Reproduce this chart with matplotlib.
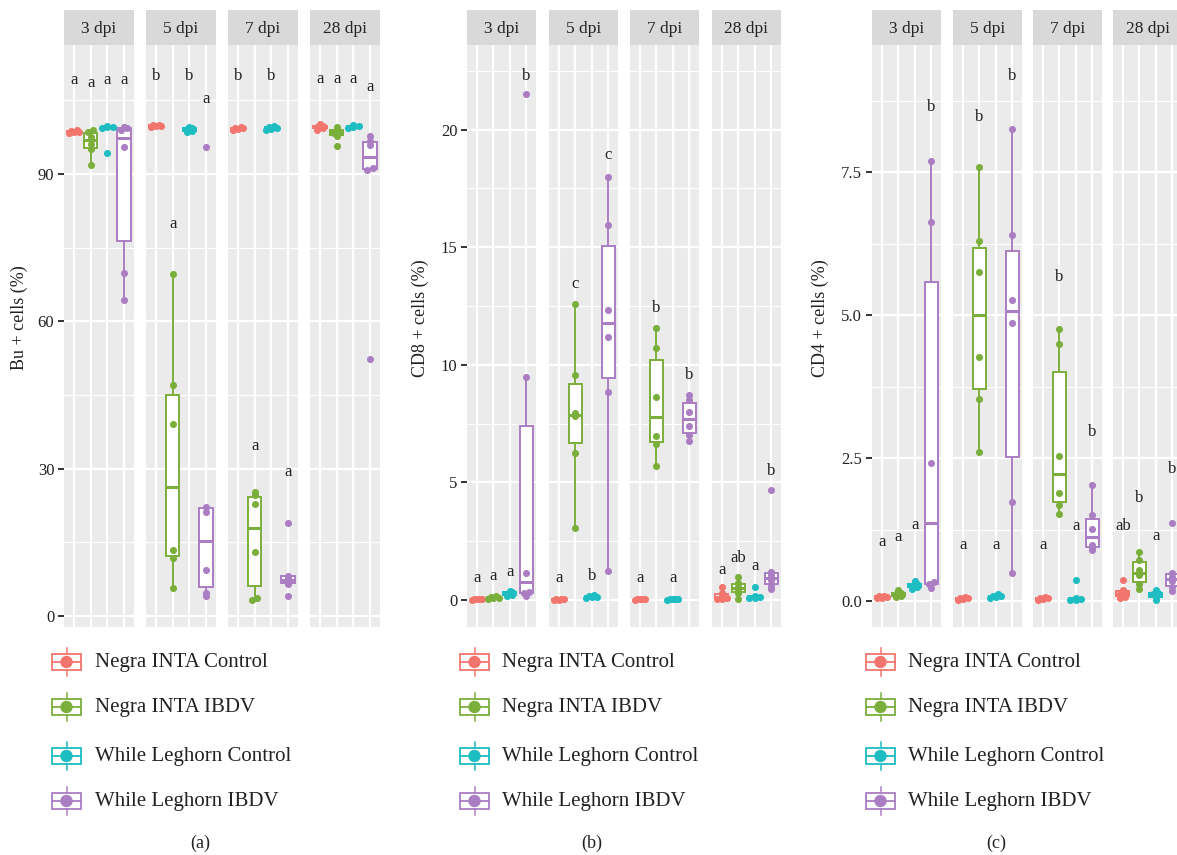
import numpy as np
import matplotlib
matplotlib.use('Agg')
import matplotlib.pyplot as plt
from matplotlib.patches import Rectangle, Circle

plt.rcParams['font.family'] = ['Liberation Serif', 'DejaVu Serif']

W, H = 1177, 855

GROUPS = ['Negra INTA Control', 'Negra INTA IBDV', 'While Leghorn Control', 'While Leghorn IBDV']
COLORS = ['#F2766E', '#7BAF3B', '#1DBDC2', '#AB7DC3']
DPI_LABELS = ['3 dpi', '5 dpi', '7 dpi', '28 dpi']

# Bu+ cells (%): per dpi, per group
bu_pct = [
    [[99.0, 98.8, 98.6, 98.5, 98.3], [98.9, 98.6, 97.5, 96.1, 95.0, 91.8],
     [99.8, 99.6, 99.5, 99.4, 94.3], [99.5, 99.3, 99.0, 95.4, 69.9, 64.3]],
    [[100.0, 99.9, 99.8, 99.7, 99.6], [69.7, 47.1, 39.0, 13.4, 11.8, 5.8],
     [99.6, 99.3, 99.1, 98.8, 98.4], [95.4, 22.2, 21.2, 9.4, 4.7, 4.1]],
    [[99.6, 99.4, 99.3, 99.1, 98.9], [25.3, 24.6, 22.8, 13.1, 3.7, 3.3],
     [99.7, 99.5, 99.3, 99.2, 99.0], [19.0, 8.2, 7.7, 7.2, 6.6, 4.1]],
    [[100.1, 99.8, 99.6, 99.3, 99.0], [99.5, 99.0, 98.6, 98.2, 97.7, 95.7],
     [99.9, 99.7, 99.5, 99.3], [97.6, 96.7, 95.8, 91.2, 90.8, 52.3]],
]
bu_letters = [['a', 'a', 'a', 'a'], ['b', 'a', 'b', 'a'], ['b', 'a', 'b', 'a'], ['a', 'a', 'a', 'a']]
bu_letter_y = [[109.0, 108.4, 109.0, 109.0], [109.8, 79.7, 109.8, 105.3],
               [109.8, 34.6, 109.8, 29.4], [109.3, 109.3, 109.3, 107.6]]

# CD8+ cells (%)
cd8_pct = [
    [[0.05, 0.04, 0.03, 0.02, 0.01], [0.15, 0.12, 0.10, 0.08, 0.05],
     [0.38, 0.32, 0.27, 0.22, 0.18], [21.5, 9.5, 1.16, 0.35, 0.28, 0.17]],
    [[0.04, 0.03, 0.02, 0.01, 0.0], [12.6, 9.57, 7.94, 7.83, 6.27, 3.08],
     [0.20, 0.17, 0.14, 0.12, 0.10], [18.0, 15.96, 12.34, 11.2, 8.86, 1.25]],
    [[0.05, 0.04, 0.03, 0.02, 0.01], [11.56, 10.71, 8.62, 6.98, 6.65, 5.7],
     [0.05, 0.04, 0.03, 0.02, 0.01], [8.72, 8.5, 8.01, 7.4, 7.0, 6.78]],
    [[0.54, 0.30, 0.18, 0.10, 0.05, 0.02], [0.99, 0.70, 0.55, 0.45, 0.30, 0.05],
     [0.57, 0.15, 0.12, 0.10, 0.08], [4.68, 1.2, 1.05, 0.85, 0.6, 0.45]],
]
cd8_letters = [['a', 'a', 'a', 'b'], ['a', 'c', 'b', 'c'], ['a', 'b', 'a', 'b'], ['a', 'ab', 'a', 'b']]
cd8_letter_y = [[0.94, 1.02, 1.2, 22.3], [0.92, 13.45, 1.02, 18.94],
                [0.93, 12.4, 0.93, 9.57], [1.28, 1.77, 1.46, 5.5]]

# CD4+ cells (%)
cd4_pct = [
    [[0.10, 0.09, 0.08, 0.06, 0.05], [0.20, 0.15, 0.12, 0.10, 0.08],
     [0.35, 0.30, 0.27, 0.25, 0.22], [7.69, 6.63, 2.41, 0.33, 0.30, 0.24]],
    [[0.07, 0.06, 0.05, 0.04, 0.03], [7.58, 6.3, 5.76, 4.26, 3.53, 2.6],
     [0.12, 0.10, 0.09, 0.08, 0.06], [8.26, 6.4, 5.27, 4.87, 1.73, 0.49]],
    [[0.07, 0.06, 0.05, 0.04, 0.03], [4.75, 4.5, 2.54, 1.9, 1.68, 1.52],
     [0.38, 0.06, 0.04, 0.03, 0.02], [2.03, 1.5, 1.27, 0.98, 0.93, 0.89]],
    [[0.37, 0.20, 0.15, 0.12, 0.08, 0.05], [0.86, 0.72, 0.55, 0.45, 0.30, 0.22],
     [0.20, 0.15, 0.12, 0.08, 0.03], [1.37, 0.50, 0.42, 0.35, 0.25, 0.18]],
]
cd4_letters = [['a', 'a', 'a', 'b'], ['a', 'b', 'a', 'b'], ['a', 'b', 'a', 'b'], ['ab', 'b', 'a', 'b']]
cd4_letter_y = [[1.04, 1.12, 1.33, 8.64], [0.98, 8.47, 0.98, 9.18],
                [0.98, 5.67, 1.32, 2.95], [1.31, 1.8, 1.14, 2.31]]

PANEL_BG = '#EBEBEB'
STRIP_BG = '#D9D9D9'
TXT = '#222222'


def fig_rect(x, y, w, h):
    return [x / W, 1 - (y + h) / H, w / W, h / H]


def stack_offsets(vals, bw, step, max_row=3):
    # centre-stacked dot positions, like geom_dotplot(stackdir='center')
    vals = np.asarray(vals, dtype=float)
    order = np.argsort(vals)
    v = vals[order]
    offs = np.zeros(len(v))
    i = 0
    while i < len(v):
        j = i
        while j + 1 < len(v) and v[j + 1] - v[i] < bw and j + 1 - i < max_row:
            j += 1
        n = j - i + 1
        offs[i:j + 1] = (np.arange(n) - (n - 1) / 2) * step
        i = j + 1
    out = np.zeros(len(v))
    out[order] = offs
    return out


def draw_panel(fig, lefts, fw, values, letters, letter_y, ylim, ticks, ticklabels,
               minor, ylabel, ylabel_x):
    top, bottom = 45, 627
    dot_d = 7 * (ylim[1] - ylim[0]) / (bottom - top)
    for k, x0 in enumerate(lefts):
        ax = fig.add_axes(fig_rect(x0, top, fw, bottom - top))
        ax.set_facecolor(PANEL_BG)
        for s in ax.spines.values():
            s.set_visible(False)
        for m in minor:
            ax.axhline(m, color='white', lw=0.8, zorder=0)
        for t in ticks:
            ax.axhline(t, color='white', lw=1.6, zorder=0)
        for g in range(4):
            ax.axvline(g + 1, color='white', lw=1.6, zorder=0)

        for g in range(4):
            data = values[k][g]
            c = COLORS[g]
            ax.boxplot([data], positions=[g + 1], widths=0.8, whis=1.5,
                       showfliers=False, showcaps=False, patch_artist=True,
                       boxprops=dict(facecolor='white', edgecolor=c, lw=1.4),
                       whiskerprops=dict(color=c, lw=1.4),
                       medianprops=dict(color=c, lw=2.2),
                       zorder=2)
            xo = stack_offsets(data, 0.3 * dot_d, 0.32)
            ax.scatter(g + 1 + xo, data, s=26, color=c, linewidths=0, zorder=4,
                       clip_on=False)
            ax.text(g + 1, letter_y[k][g], letters[k][g], ha='center', va='center',
                    fontsize=12, color=TXT, zorder=5)

        ax.set_xlim(0.4, 4.6)
        ax.set_ylim(*ylim)
        ax.set_xticks([])
        if k == 0:
            ax.set_yticks(ticks)
            ax.set_yticklabels(ticklabels, fontsize=12, color=TXT)
            ax.tick_params(axis='y', length=4, width=1.4, color='#333333', pad=3)
        else:
            ax.set_yticks([])

        sax = fig.add_axes(fig_rect(x0, 10, fw, 35))
        sax.set_facecolor(STRIP_BG)
        sax.set_xticks([])
        sax.set_yticks([])
        for s in sax.spines.values():
            s.set_visible(False)
        sax.text(0.5, 0.45, DPI_LABELS[k], ha='center', va='center',
                 fontsize=12.5, color=TXT, transform=sax.transAxes)

    fig.text(ylabel_x / W, 1 - 318 / H, ylabel, rotation=90, ha='center',
             va='center', fontsize=13, color=TXT)


fig = plt.figure(figsize=(W / 100, H / 100), dpi=100)
fig.patch.set_facecolor('white')

draw_panel(fig, [64, 146, 228, 310], 70, bu_pct, bu_letters, bu_letter_y,
           (-2.2, 116.2), [0, 30, 60, 90], ['0', '30', '60', '90'],
           [15, 45, 75, 105], 'Bu + cells (%)', 19)
draw_panel(fig, [467, 549, 630, 712], 69, cd8_pct, cd8_letters, cd8_letter_y,
           (-1.15, 23.6), [0, 5, 10, 15, 20], ['0', '5', '10', '15', '20'],
           [2.5, 7.5, 12.5, 17.5, 22.5], 'CD8 + cells (%)', 420)
draw_panel(fig, [872, 953, 1033, 1113], 69, cd4_pct, cd4_letters, cd4_letter_y,
           (-0.45, 9.72), [0, 2.5, 5.0, 7.5], ['0.0', '2.5', '5.0', '7.5'],
           [1.25, 3.75, 6.25, 8.75], 'CD4 + cells (%)', 820)

# legends and captions, laid out in pixel space
ov = fig.add_axes([0, 0, 1, 1])
ov.set_xlim(0, W)
ov.set_ylim(H, 0)
ov.axis('off')
ov.patch.set_alpha(0)

legend_rows = [662, 707, 756, 801]
for kx, tx, cap, cx in [(52, 95, '(a)', 200), (460, 502, '(b)', 592), (866, 908, '(c)', 996)]:
    for g, ry in enumerate(legend_rows):
        c = COLORS[g]
        ov.plot([kx + 14.5, kx + 14.5], [ry - 14, ry - 8], color=c, lw=1.1)
        ov.plot([kx + 14.5, kx + 14.5], [ry + 8, ry + 14], color=c, lw=1.1)
        ov.add_patch(Rectangle((kx, ry - 8), 29, 16, facecolor='white',
                               edgecolor=c, lw=1.3))
        ov.plot([kx, kx + 29], [ry, ry], color=c, lw=1.3)
        ov.add_patch(Circle((kx + 14.5, ry), 5.5, color=c, zorder=5))
        ov.text(tx, ry, GROUPS[g], ha='left', va='center', fontsize=15, color=TXT)
    ov.text(cx, 843, cap, ha='center', va='center', fontsize=13, color=TXT)

fig.savefig('out.png', dpi=100)
